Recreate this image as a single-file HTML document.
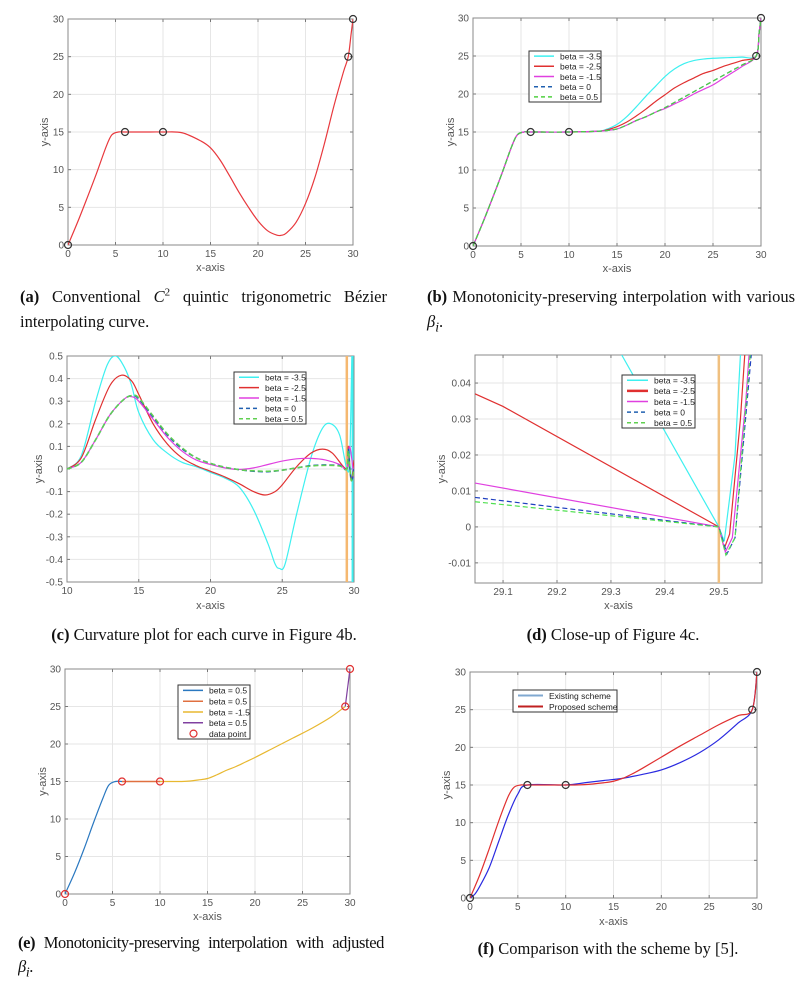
<!DOCTYPE html>
<html><head><meta charset="utf-8">
<style>
html,body{margin:0;background:#fff;width:806px;height:986px;overflow:hidden}
body{position:relative;font-family:"Liberation Sans",sans-serif}
svg{position:absolute;left:0;top:0}
.cap{position:absolute;font-family:"Liberation Serif",serif;font-size:16.5px;line-height:25px;color:#111;white-space:nowrap}
.l1{text-align:justify;text-align-last:justify}
.ctr{text-align:center}
</style></head>
<body>
<svg id="fig" width="806" height="986" viewBox="0 0 806 986" xmlns="http://www.w3.org/2000/svg"></svg>

<div class="cap" style="left:20px;top:284px;width:367px"><div class="l1"><b>(a)</b> Conventional <i>C</i><sup style="font-size:11px;line-height:0">2</sup> quintic trigonometric Bézier</div><div>interpolating curve.</div></div>
<div class="cap" style="left:427px;top:284px;width:368px"><div class="l1"><b>(b)</b> Monotonicity-preserving interpolation with various</div><div><i>β</i><sub style="line-height:0"><i>i</i></sub>.</div></div>
<div class="cap ctr" style="left:0px;top:622px;width:408px"><b>(c)</b> Curvature plot for each curve in Figure 4b.</div>
<div class="cap ctr" style="left:420px;top:622px;width:386px"><b>(d)</b> Close-up of Figure 4c.</div>
<div class="cap" style="left:18px;top:931px;width:366px;letter-spacing:-0.4px;line-height:24px;height:54px;overflow:hidden"><div class="l1"><b>(e)</b> Monotonicity-preserving interpolation with adjusted</div><div><i>β</i><sub style="line-height:0"><i>i</i></sub>.</div></div>
<div class="cap ctr" style="left:410px;top:936px;width:396px"><b>(f)</b> Comparison with the scheme by [5].</div>

<script>
// ---------- data ----------
const aX=[0,1,2,3,4,4.6,5.3,6,8,10,12,14,15,16,17,18,19,20,21,22,22.5,23,24,25,26,27,28,29,29.5,29.8,30];
const aY=[0,3,6.2,9.5,13,14.6,15,15,15,15,14.9,13.8,12.9,11.3,9.2,7,5,3.2,1.9,1.3,1.3,1.6,3,5.5,9,13.5,18.5,23,25,28,30];
const dataX=[0,6,10,29.5,30];
const dataY=[0,15,15,25,30];

const bX=[0,1,2,3,4,4.6,5.3,6,10,13,14,15,16,17,18,19,20,21,22,23,24,25,26,27,28,29.5,29.8,30];
const bCyan=[0,3,6.2,9.5,13,14.6,15,15,15,15.1,15.4,16,17,18.3,19.7,21,22.3,23.3,24,24.4,24.6,24.7,24.75,24.8,24.85,25,28,30];
const bRed=[0,3,6.2,9.5,13,14.6,15,15,15,15.1,15.3,15.7,16.3,17.1,18,19,19.9,20.8,21.5,22.1,22.7,23.1,23.6,24,24.4,25,28,30];
const bMag=[0,3,6.2,9.5,13,14.6,15,15,15,15.1,15.2,15.4,15.9,16.5,17,17.6,18.1,18.7,19.3,20,20.6,21.2,22,22.8,23.6,25,28,30];
const bBlue=[0,3,6.2,9.5,13,14.6,15,15,15,15.1,15.2,15.4,15.9,16.5,17,17.6,18.2,18.9,19.6,20.3,21,21.7,22.4,23.1,23.8,25,28,30];
const bGreen=[0,3,6.2,9.5,13,14.6,15,15,15,15.1,15.2,15.4,15.9,16.5,17,17.6,18.2,18.9,19.6,20.3,21,21.7,22.4,23.1,23.8,25,28,30];
const betaLabels=["beta = -3.5","beta = -2.5","beta = -1.5","beta = 0","beta = 0.5"];

const cCyanX=[10,11,12,12.8,13.4,14,14.5,15,16,17,18,19,20,21,22,23,24,24.5,24.8,25.2,26,27,27.8,28.4,29,29.5,29.7,29.85];
const cCyanY=[0,0.06,0.3,0.46,0.5,0.45,0.37,0.25,0.13,0.07,0.03,0.01,-0.015,-0.04,-0.08,-0.18,-0.33,-0.42,-0.44,-0.42,-0.2,0.05,0.18,0.2,0.15,0,0.05,0.5];
const cRedX=[10,11,12,13,13.8,14.5,15,16,17,18,19,20,21,22,23,23.8,24.5,25,26,27,27.8,28.5,29.5,29.6,29.8,30];
const cRedY=[0,0.05,0.22,0.37,0.415,0.39,0.33,0.2,0.11,0.05,0.015,-0.01,-0.035,-0.065,-0.1,-0.115,-0.1,-0.07,0.01,0.07,0.088,0.07,0,0.1,-0.05,0.04];
const cMagX=[10,11,12,13,14,14.5,15,16,17,18,19,20,21,22,23,24,25,26,27,28,29,29.5,29.7,30];
const cMagY=[0,0.03,0.13,0.24,0.31,0.32,0.3,0.22,0.14,0.08,0.04,0.02,0.005,-0.002,0.005,0.02,0.035,0.045,0.047,0.04,0.02,0,0.1,-0.04];
const cDashX=[10,11,12,13,14,14.6,15,16,17,18,19,20,21,22,23,24,25,26,27,28,29,29.5,29.6,29.8,30];
const cBlueY=[0,0.03,0.13,0.24,0.31,0.325,0.31,0.23,0.15,0.09,0.05,0.025,0.008,-0.003,-0.01,-0.012,-0.005,0.005,0.015,0.018,0.015,0,0.09,-0.05,0];
const cGreenY=[0,0.03,0.13,0.24,0.31,0.325,0.315,0.235,0.155,0.095,0.05,0.025,0.008,-0.003,-0.008,-0.01,-0.005,0.005,0.013,0.016,0.013,0,0.08,-0.05,0];
const knotX=[29.5];
const cCyanSpikeX=[29.9];

const dCyanX=[29.32,29.5,29.51,29.53,29.54];
const dCyanY=[0.0478,0,-0.004,0.02,0.0478];
const dRedX=[29.048,29.1,29.5,29.51,29.52,29.54,29.548];
const dRedY=[0.037,0.0335,0,-0.006,-0.002,0.03,0.0478];
const dMagX=[29.048,29.5,29.512,29.525,29.55,29.556];
const dMagY=[0.0122,0,-0.007,-0.003,0.035,0.0478];
const dBlueX=[29.048,29.5,29.515,29.53,29.56];
const dBlueY=[0.0082,0,-0.0075,-0.003,0.0478];
const dGreenX=[29.048,29.5,29.513,29.53,29.558];
const dGreenY=[0.007,0,-0.0078,-0.003,0.0478];

const eBlueX=[0,1,2,3,4,4.6,5.3,6];
const eBlueY=[0,2.8,6,9.5,12.8,14.5,15,15];
const eOrangeX=[6,10];
const eOrangeY=[15,15];
const eYellowX=[10,12,13,14,15,16,17,18,19,20,22,24,26,28,29.5];
const eYellowY=[15,15,15.05,15.2,15.4,15.9,16.5,17,17.6,18.2,19.5,20.8,22.1,23.6,25];
const ePurpleX=[29.5,30];
const ePurpleY=[25,30];
const eLabels=["beta = 0.5","beta = 0.5","beta = -1.5","beta = 0.5","data point"];

const fBlueX=[0,0.5,1,2,3,4,5,6,10,12,14,16,18,20,22,24,26,28,29.5,30];
const fBlueY=[0,0.5,1.5,4,7.5,11,13.8,15,15,15.3,15.6,15.9,16.4,17,18,19.3,21,23.2,25,30];
const fRedX=[0,1,2,3,4,4.6,5.3,6,10,12,14,15,16,17,18,20,22,24,26,28,29.5,30];
const fRedY=[0,3,6.5,10.2,13.5,14.7,15,15,15,15.05,15.3,15.5,15.9,16.5,17.2,18.7,20.2,21.6,23,24.2,25,30];
const fLabels=["Existing scheme","Proposed scheme"];

const ticks30=[0,5,10,15,20,25,30];
const ticksC_X=[10,15,20,25,30];
const ticksC_Y=[-0.5,-0.4,-0.3,-0.2,-0.1,0,0.1,0.2,0.3,0.4,0.5];
const ticksD_X=[29.1,29.2,29.3,29.4,29.5];
const ticksD_Y=[-0.01,0,0.01,0.02,0.03,0.04];

// ---------- helpers ----------
const NS="http://www.w3.org/2000/svg";
const fig=document.getElementById('fig');
function mk(tag,attrs,parent){const e=document.createElementNS(NS,tag);for(const k in attrs)e.setAttribute(k,attrs[k]);(parent||fig).appendChild(e);return e;}
let clipN=0;
function panel(name,x0,x1,yt,yb,xd,yd,xt,yt2,xl,ylx){
  const g=mk('g',{});
  
  
  const sx=v=>x0+(v-xd[0])/(xd[1]-xd[0])*(x1-x0);
  const sy=v=>yb-(v-yd[0])/(yd[1]-yd[0])*(yb-yt);
  mk('rect',{x:x0,y:yt,width:x1-x0,height:yb-yt,fill:'#fff'},g);
  const fmt=v=>String(+v.toFixed(3));
  xt.forEach(v=>{
    const gl=mk('line',{x1:sx(v),x2:sx(v),y1:yt,y2:yb,stroke:'#e6e6e6','stroke-width':1},g);
    
    
    mk('line',{x1:sx(v),x2:sx(v),y1:yb,y2:yb-3,stroke:'#777'},g);
    mk('line',{x1:sx(v),x2:sx(v),y1:yt,y2:yt+3,stroke:'#777'},g);
    const t=mk('text',{x:sx(v),y:yb+12,'text-anchor':'middle','font-size':10,fill:'#555'},g);
    t.textContent=fmt(v);
    
    
  });
  yt2.forEach(v=>{
    const gl=mk('line',{x1:x0,x2:x1,y1:sy(v),y2:sy(v),stroke:'#e6e6e6','stroke-width':1},g);
    
    
    mk('line',{x1:x0,x2:x0+3,y1:sy(v),y2:sy(v),stroke:'#777'},g);
    mk('line',{x1:x1,x2:x1-3,y1:sy(v),y2:sy(v),stroke:'#777'},g);
    const t=mk('text',{x:x0-4,y:sy(v)+3.5,'text-anchor':'end','font-size':10,fill:'#555'},g);
    t.textContent=fmt(v);
    
    
  });
  const bx=mk('rect',{x:x0,y:yt,width:x1-x0,height:yb-yt,fill:'none',stroke:'#888','stroke-width':1},g);
  
  
  const xl2=mk('text',{x:(x0+x1)/2,y:yb+xl,'text-anchor':'middle','font-size':11,fill:'#555'},g);
  xl2.textContent='x-axis';
  
  
  const yl=mk('text',{x:0,y:0,'text-anchor':'middle','font-size':11,fill:'#555',transform:`translate(${ylx},${(yt+yb)/2}) rotate(-90)`},g);
  yl.textContent='y-axis';
  
  
  clipN++;
  const cp=mk('clipPath',{id:'cp'+clipN},g);
  mk('rect',{x:x0,y:yt,width:x1-x0,height:yb-yt},cp);
  const plot=mk('g',{'clip-path':`url(#cp${clipN})`},g);
  return {g,plot,sx,sy,yt,yb};
}
function pathD(xs,ys,sx,sy,smooth){
  const p=xs.map((x,i)=>[sx(x),sy(ys[i])]);
  let d=`M${p[0][0].toFixed(2)},${p[0][1].toFixed(2)}`;
  for(let i=0;i<p.length-1;i++){
    if(!smooth){d+=`L${p[i+1][0].toFixed(2)},${p[i+1][1].toFixed(2)}`;continue;}
    const p0=p[Math.max(i-1,0)],p1=p[i],p2=p[i+1],p3=p[Math.min(i+2,p.length-1)];
    const c1=[p1[0]+(p2[0]-p0[0])/6,p1[1]+(p2[1]-p0[1])/6];
    const c2=[p2[0]-(p3[0]-p1[0])/6,p2[1]-(p3[1]-p1[1])/6];
    d+=`C${c1[0].toFixed(2)},${c1[1].toFixed(2)} ${c2[0].toFixed(2)},${c2[1].toFixed(2)} ${p2[0].toFixed(2)},${p2[1].toFixed(2)}`;
  }
  return d;
}
function series(P,name,xs,ys,color,w,dash,smooth){
  const e=mk('path',{d:pathD(xs,ys,P.sx,P.sy,smooth!==false),fill:'none',stroke:color,'stroke-width':w,'stroke-dasharray':dash||'none'},P.plot);
  
  
  return e;
}
function markers(P,name,xs,ys,color){
  xs.forEach((x,i)=>{
    const c=mk('circle',{cx:P.sx(x),cy:P.sy(ys[i]),r:3.5,fill:'none',stroke:color,'stroke-width':1.2},P.g);
    
    
  });
}
function vline(P,name,xs,color,w){
  xs.forEach(x=>{
    const l=mk('line',{x1:P.sx(x),x2:P.sx(x),y1:P.yt,y2:P.yb,stroke:color,'stroke-width':w},P.plot);
    
    
  });
}
function legend(name,x,y,w,h,labels,colors,dashes,widths,fs,tx,marker){
  const g=mk('g',{});
  
  
  mk('rect',{x:x,y:y,width:w,height:h,fill:'#fff',stroke:'#333','stroke-width':1},g);
  const rh=h/labels.length;
  labels.forEach((lab,i)=>{
    const cy=y+rh*(i+0.5);
    if(marker&&i===marker.index){
      mk('circle',{cx:x+tx/2,cy:cy,r:3.5,fill:'none',stroke:marker.color,'stroke-width':1.2},g);
    } else {
      mk('line',{x1:x+5,x2:x+tx-6,y1:cy,y2:cy,stroke:colors[i],'stroke-width':widths[i],'stroke-dasharray':dashes[i]||'none'},g);
    }
    const t=mk('text',{x:x+tx,y:cy+3.3,'font-size':fs,fill:'#222'},g);
    t.textContent=lab;
    
    
  });
}

// ---------- (a) ----------
const A=panel('panel-a',68,353,19,245,[0,30],[0,30],ticks30,ticks30,26,48);
series(A,'curve-a',aX,aY,'#e8383d',1.2);
markers(A,'data-point',dataX,dataY,'#333');

// ---------- (b) ----------
const B=panel('panel-b',473,761,18,246,[0,30],[0,30],ticks30,ticks30,26,454);
series(B,'curve-beta-m3.5',bX,bCyan,'#3ef0f0',1.2);
series(B,'curve-beta-m2.5',bX,bRed,'#e03030',1.2);
series(B,'curve-beta-m1.5',bX,bMag,'#e040e0',1.2);
series(B,'curve-beta-0',bX,bBlue,'#2060b0',1.2,'5,3');
series(B,'curve-beta-0.5',bX,bGreen,'#50d040',1.2,'5,3');
markers(B,'data-point',dataX,dataY,'#333');
legend('legend-b',529,51,72,51,betaLabels,['#3ef0f0','#e03030','#e040e0','#2060b0','#50d040'],[0,0,0,'4,3','4,3'],[1.5,1.5,1.5,1.5,1.5],8.5,31);

// ---------- (c) ----------
const C=panel('panel-c',67,354,356,582,[10,30],[-0.5,0.5],ticksC_X,ticksC_Y,27,42);
vline(C,'knot-line',knotX,'#f5b870',2.5);
series(C,'curvature-beta-m3.5',cCyanX,cCyanY,'#3ef0f0',1.2);
vline(C,'spike-line',cCyanSpikeX,'#3ef0f0',2);
series(C,'curvature-beta-m2.5',cRedX,cRedY,'#e03030',1.2);
series(C,'curvature-beta-m1.5',cMagX,cMagY,'#e040e0',1.2);
series(C,'curvature-beta-0',cDashX,cBlueY,'#2060b0',1.5,'5,3');
series(C,'curvature-beta-0.5',cDashX,cGreenY,'#60d050',1.5,'5,3');
legend('legend-c',234,372,72,52,betaLabels,['#3ef0f0','#e03030','#e040e0','#2060b0','#60d050'],[0,0,0,'4,3','4,3'],[1.5,1.5,1.5,1.5,1.5],8.5,31);

// ---------- (d) ----------
const D=panel('panel-d',475,762,355,583,[29.048,29.58],[-0.0156,0.0478],ticksD_X,ticksD_Y,26,445);
vline(D,'knot-line',knotX,'#f0c080',2.5);
series(D,'closeup-beta-m3.5',dCyanX,dCyanY,'#3ef0f0',1.2,null,false);
series(D,'closeup-beta-m2.5',dRedX,dRedY,'#e03030',1.2,null,false);
series(D,'closeup-beta-m1.5',dMagX,dMagY,'#e040e0',1.2,null,false);
series(D,'closeup-beta-0',dBlueX,dBlueY,'#2040c0',1.2,'5,3',false);
series(D,'closeup-beta-0.5',dGreenX,dGreenY,'#50e050',1.2,'5,3',false);
legend('legend-d',622,375,73,53,betaLabels,['#3ef0f0','#e03030','#e040e0','#2060b0','#60d050'],[0,0,0,'4,3','4,3'],[1.5,2.5,1.5,1.5,1.5],8.5,32);

// ---------- (e) ----------
const E=panel('panel-e',65,350,669,894,[0,30],[0,30],ticks30,ticks30,26,46);
series(E,'segment-1',eBlueX,eBlueY,'#2a78c0',1.2);
series(E,'segment-2',eOrangeX,eOrangeY,'#e07040',1.5);
series(E,'segment-3',eYellowX,eYellowY,'#e8b830',1.2);
series(E,'segment-4',ePurpleX,ePurpleY,'#8040a0',1.2,null,false);
markers(E,'data-point',dataX,dataY,'#e03030');
legend('legend-e',178,685,72,54,eLabels,['#2a78c0','#e07040','#e8b830','#8040a0','#e03030'],[0,0,0,0,0],[1.5,1.5,1.5,1.5,1.5],8.5,31,{index:4,color:'#e03030'});

// ---------- (f) ----------
const F=panel('panel-f',470,757,672,898,[0,30],[0,30],ticks30,ticks30,27,450);
series(F,'existing-scheme',fBlueX,fBlueY,'#2a2ae0',1.2);
series(F,'proposed-scheme',fRedX,fRedY,'#e03030',1.2);
markers(F,'data-point',dataX,dataY,'#333');
legend('legend-f',513,690,104,22,fLabels,['#80a8d0','#c02020'],[0,0],[2,2],8.5,36);
</script>
</body></html>
